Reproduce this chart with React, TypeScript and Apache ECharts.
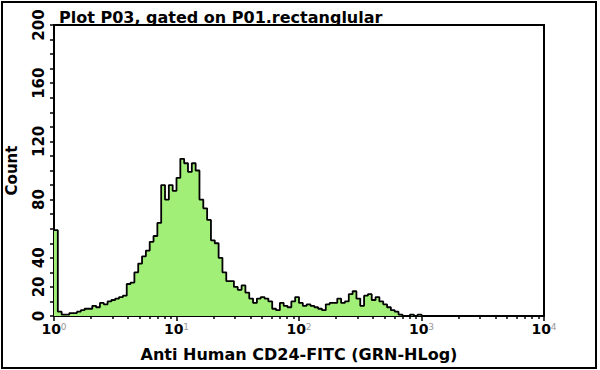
import React, { useEffect, useRef } from "react";
import * as echarts from "echarts";

const titleText = "Plot P03, gated on P01.rectanglular";
const xAxisTitle = "Anti Human CD24-FITC (GRN-HLog)";
const yAxisTitle = "Count";

// Histogram counts, 32 bins per decade (log10 channel scale)
const decade0Counts = [59, 3, 1, 1, 2, 2, 3, 4, 5, 5, 7, 6, 9, 8, 10, 11, 12, 13, 14, 22, 23, 30, 36, 41, 45, 51, 55, 64, 90, 80, 90, 86];
const decade1Counts = [95, 108, 105, 99, 105, 100, 80, 74, 66, 52, 50, 40, 30, 24, 24, 20, 18, 21, 16, 12, 9, 12, 13, 12, 10, 5, 4, 9, 7, 6, 10, 13];
const decade2Counts = [9, 7, 8, 7, 6, 5, 4, 8, 9, 9, 12, 9, 10, 15, 17, 12, 7, 14, 15, 11, 13, 10, 8, 6, 4, 3, 1, 0, 0, 1, 0, 1];
const decade3Counts = [0, 0, 0, 0, 0, 0, 0, 0, 0, 0, 0, 0, 0, 0, 0, 0, 0, 0, 0, 0, 0, 0, 0, 0, 0, 0, 0, 0, 0, 0, 0, 0];

const decades = [0, 1, 2, 3, 4];
const minorMultipliers = [2, 3, 4, 5, 6, 7, 8, 9];
const yTickValues = [0, 10, 20, 30, 40, 50, 60, 70, 80, 90, 100, 110, 120, 130, 140, 150, 160, 170, 180, 190, 200];
const yLabelValues = [0, 20, 40, 80, 120, 160, 200];

const BINS_PER_DECADE = 32;
const FONT = "DejaVu Sans";

export default function App() {
  const ref = useRef<HTMLDivElement>(null);
  useEffect(() => {
    document.body.style.margin = "0";
    if (!ref.current) return;
    const chart = echarts.init(ref.current, null, { renderer: "svg" });
    const counts = [...decade0Counts, ...decade1Counts, ...decade2Counts, ...decade3Counts];
    const binW = 1 / BINS_PER_DECADE;
    const data: number[][] = counts.map((c, i) => [i * binW, c]);
    data.push([counts.length * binW, counts[counts.length - 1]]);

    const minorTicks: number[] = [];
    for (let d = 0; d < 4; d++) {
      for (const m of minorMultipliers) minorTicks.push(d + Math.log10(m));
    }

    chart.setOption({
      animation: false,
      backgroundColor: "#fff",
      title: {
        text: titleText,
        left: 54,
        top: 4,
        textStyle: { fontFamily: FONT, fontSize: 16, fontWeight: "bold", color: "#000" },
      },
      graphic: [
        {
          type: "rect",
          shape: { x: 2, y: 2, width: 594, height: 366 },
          style: { fill: "none", stroke: "#000", lineWidth: 2 },
          silent: true,
        },
      ],
      grid: {
        left: 54,
        top: 25,
        right: 56,
        bottom: 54,
        show: true,
        borderColor: "#000",
        borderWidth: 2,
        backgroundColor: "#fff",
        outerBoundsMode: "none",
      },
      xAxis: [
        {
          type: "value",
          min: 0,
          max: 4,
          interval: 1,
          position: "bottom",
          name: xAxisTitle,
          nameLocation: "middle",
          nameGap: 30,
          nameTextStyle: { fontFamily: FONT, fontSize: 16, fontWeight: "bold", color: "#000" },
          axisLine: { show: true, lineStyle: { color: "#000", width: 2 } },
          axisTick: { show: true, length: 5, customValues: decades, lineStyle: { color: "#000", width: 1.5 } },
          axisLabel: {
            customValues: decades,
            margin: 6,
            formatter: (v: number) => `{b|10}{s|${v}}`,
            rich: {
              b: { fontFamily: FONT, fontSize: 14, fontWeight: "bold", color: "#000" },
              s: { fontFamily: FONT, fontSize: 9, color: "#999", verticalAlign: "top" },
            },
          },
          splitLine: { show: false },
        },
        {
          type: "value",
          min: 0,
          max: 4,
          interval: 1,
          position: "bottom",
          axisLine: { show: false },
          axisTick: { show: true, length: 3, customValues: minorTicks, lineStyle: { color: "#000", width: 1.5 } },
          axisLabel: { show: false },
          splitLine: { show: false },
        },
      ],
      yAxis: {
        type: "value",
        min: 0,
        max: 200,
        interval: 10,
        name: yAxisTitle,
        nameLocation: "middle",
        nameGap: 35,
        nameTextStyle: { fontFamily: FONT, fontSize: 15, fontWeight: "bold", color: "#000" },
        axisLine: { show: true, lineStyle: { color: "#000", width: 2 } },
        axisTick: { show: true, length: 4, customValues: yTickValues, lineStyle: { color: "#000", width: 1.5 } },
        axisLabel: {
          customValues: yLabelValues,
          rotate: 90,
          margin: 8,
          fontFamily: FONT,
          fontSize: 15,
          fontWeight: "bold",
          color: "#000",
        },
        splitLine: { show: false },
      },
      series: [
        {
          type: "line",
          xAxisIndex: 0,
          step: "end",
          symbol: "none",
          data,
          lineStyle: { color: "#000", width: 1.8 },
          areaStyle: { color: "#a2ef78", opacity: 1 },
        },
      ],
    });
    return () => chart.dispose();
  }, []);
  return <div ref={ref} style={{ width: 600, height: 370 }} />;
}
